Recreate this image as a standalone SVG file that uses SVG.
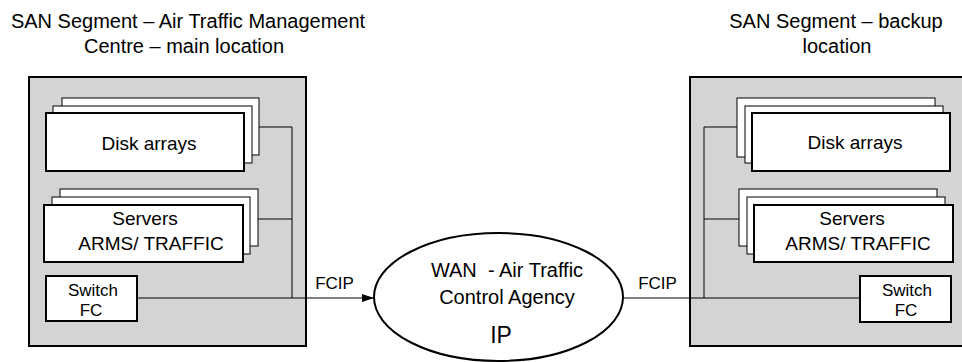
<svg xmlns="http://www.w3.org/2000/svg" width="962" height="362" viewBox="0 0 962 362">
<style>
  text { font-family: "Liberation Sans", Arial, sans-serif; fill: #000; text-anchor: middle; }
  .title { font-size: 20px; }
  .site { fill: #d4d4d4; stroke: #000; stroke-width: 2; }
  .back { fill: #fff; stroke: #000; stroke-width: 1; }
  .front { fill: #fff; stroke: #000; stroke-width: 2; }
  .conn { fill: none; stroke: #000; stroke-width: 1; }
  .lbl { font-size: 19px; }
  .wan { font-size: 20px; }
  .sw { font-size: 17px; }
</style>
<defs>
  <marker id="arrow" markerWidth="12" markerHeight="10" refX="12" refY="5" orient="auto" markerUnits="userSpaceOnUse">
    <path d="M0,1 L12,5 L0,9 Z" fill="#000"/>
  </marker>
</defs>
<rect width="962" height="362" fill="#fff"/>

<g id="title-main">
  <text class="title" x="188" y="28">SAN Segment – Air Traffic Management</text>
  <text class="title" x="184" y="53">Centre – main location</text>
</g>
<g id="title-backup">
  <text class="title" x="836" y="28">SAN Segment – backup</text>
  <text class="title" x="837" y="53">location</text>
</g>

<g id="site-main">
  <rect class="site" x="29" y="77" width="277" height="269"/>
</g>
<g id="site-backup">
  <rect class="site" x="690" y="77" width="280" height="269"/>
</g>

<g id="connectors">
  <polyline class="conn" points="259,127 292,127 292,298"/>
  <line class="conn" x1="258" y1="219" x2="292" y2="219"/>
  <line class="conn" x1="137" y1="298" x2="374" y2="298" marker-end="url(#arrow)"/>
  <polyline class="conn" points="737,127 704,127 704,298"/>
  <line class="conn" x1="704" y1="219" x2="739" y2="219"/>
  <line class="conn" x1="623" y1="298" x2="860" y2="298"/>
</g>

<g id="disk-main">
  <rect class="back" x="62" y="98" width="197" height="57"/>
  <rect class="back" x="53" y="106" width="199" height="57"/>
  <rect class="front" x="46" y="113" width="198" height="58"/>
  <text class="lbl" x="149" y="150">Disk arrays</text>
</g>
<g id="servers-main">
  <rect class="back" x="60" y="189" width="198" height="57"/>
  <rect class="back" x="52" y="197" width="198" height="57"/>
  <rect class="front" x="44" y="205" width="199" height="57"/>
  <text class="lbl" x="145" y="225">Servers</text>
  <text class="lbl" x="151" y="250">ARMS/ TRAFFIC</text>
</g>
<g id="switch-main">
  <rect class="front" x="46" y="276" width="91" height="45"/>
  <text class="sw" x="93" y="296">Switch</text>
  <text class="sw" x="91" y="316">FC</text>
</g>

<g id="disk-backup">
  <rect class="back" x="737" y="98" width="198" height="59"/>
  <rect class="back" x="745" y="106" width="198" height="57"/>
  <rect class="front" x="752" y="113" width="198" height="58"/>
  <text class="lbl" x="855" y="149">Disk arrays</text>
</g>
<g id="servers-backup">
  <rect class="back" x="739" y="189" width="198" height="57"/>
  <rect class="back" x="747" y="197" width="198" height="57"/>
  <rect class="front" x="754" y="205" width="199" height="57"/>
  <text class="lbl" x="852" y="225">Servers</text>
  <text class="lbl" x="858" y="250">ARMS/ TRAFFIC</text>
</g>
<g id="switch-backup">
  <rect class="front" x="860" y="276" width="91" height="46"/>
  <text class="sw" x="907" y="296">Switch</text>
  <text class="sw" x="906" y="316">FC</text>
</g>

<g id="wan">
  <ellipse cx="498.5" cy="297" rx="124.5" ry="64" fill="#fff" stroke="#000" stroke-width="2"/>
  <text class="wan" x="507" y="277" xml:space="preserve">WAN  - Air Traffic</text>
  <text class="wan" x="507" y="304">Control Agency</text>
  <text x="501" y="343" style="font-size:23px">IP</text>
</g>

<g id="fcip-labels">
  <text class="sw" x="334.5" y="289">FCIP</text>
  <text class="sw" x="657.5" y="289">FCIP</text>
</g>
</svg>
